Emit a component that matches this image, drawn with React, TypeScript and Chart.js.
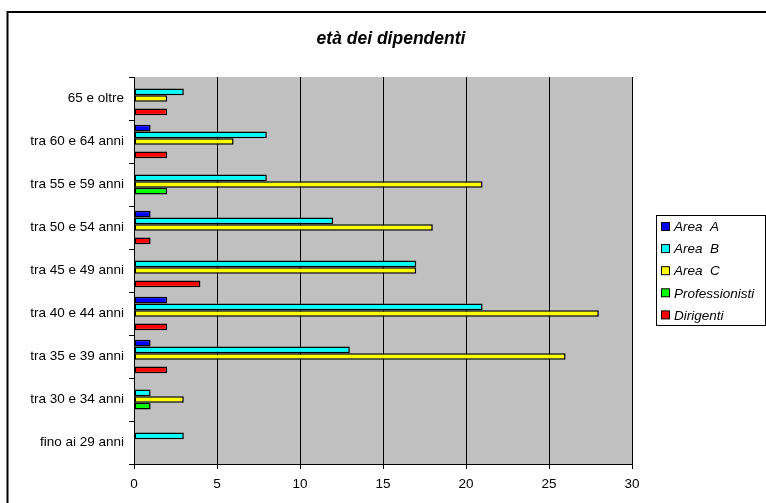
import React, { useEffect, useRef } from "react";
import { Chart, registerables } from "chart.js";

Chart.register(...registerables);

const TITLE = "età dei dipendenti";

const categories = [
  "65 e oltre",
  "tra 60 e 64 anni",
  "tra 55 e 59 anni",
  "tra 50 e 54 anni",
  "tra 45 e 49 anni",
  "tra 40 e 44 anni",
  "tra 35 e 39 anni",
  "tra 30 e 34 anni",
  "fino ai 29 anni",
];

const areaA = [0, 1, 0, 1, 0, 2, 1, 0, 0];
const areaB = [3, 8, 8, 12, 17, 21, 13, 1, 3];
const areaC = [2, 6, 21, 18, 17, 28, 26, 3, 0];
const professionisti = [0, 0, 2, 0, 0, 0, 0, 1, 0];
const dirigenti = [2, 2, 0, 1, 4, 2, 2, 0, 0];

const seriesLabels = ["Area  A", "Area  B", "Area  C", "Professionisti", "Dirigenti"];
const seriesColors = ["#0000FF", "#00FFFF", "#FFFF00", "#00FF00", "#FF0000"];

const xTicks = [0, 5, 10, 15, 20, 25, 30];

const FONT = "'Liberation Sans', Arial, sans-serif";

// Outer frame, grey plot background, title and the boxed legend on the right.
const decorations = {
  id: "decorations",
  beforeDraw(chart: any) {
    const { ctx, chartArea } = chart;
    ctx.save();
    ctx.fillStyle = "#FFFFFF";
    ctx.fillRect(0, 0, chart.width, chart.height);
    ctx.fillStyle = "#C0C0C0";
    ctx.fillRect(
      chartArea.left,
      chartArea.top,
      chartArea.right - chartArea.left,
      chartArea.bottom - chartArea.top
    );
    ctx.restore();
  },
  afterDraw(chart: any) {
    const { ctx } = chart;
    ctx.save();
    // frame
    ctx.strokeStyle = "#000000";
    ctx.lineWidth = 2;
    ctx.strokeRect(7.5, 12, 1000, 1000);

    // title
    ctx.fillStyle = "#000000";
    ctx.font = `italic bold 17.5px ${FONT}`;
    ctx.textAlign = "center";
    ctx.textBaseline = "middle";
    ctx.fillText(TITLE, 391, 39);

    // legend
    ctx.lineWidth = 1;
    ctx.strokeStyle = "#000000";
    ctx.strokeRect(656.5, 215.5, 109, 110);
    ctx.font = `italic 13.5px ${FONT}`;
    ctx.textAlign = "left";
    chart.data.datasets.forEach((ds: any, i: number) => {
      const y = 227 + i * 22.1;
      ctx.fillStyle = ds.backgroundColor;
      ctx.fillRect(661.5, y - 4.5, 8, 8);
      ctx.strokeRect(661.5, y - 4.5, 8, 8);
      ctx.fillStyle = "#000000";
      ctx.fillText(ds.label, 674, y + 0.5);
    });
    ctx.restore();
  },
};

export default function App() {
  const canvasRef = useRef<HTMLCanvasElement | null>(null);

  useEffect(() => {
    if (!canvasRef.current) return;
    const values = [areaA, areaB, areaC, professionisti, dirigenti];
    const chart = new Chart(canvasRef.current, {
      type: "bar",
      data: {
        labels: categories,
        datasets: values.map((data, i) => ({
          label: seriesLabels[i],
          data,
          backgroundColor: seriesColors[i],
          borderColor: "#000000",
          borderWidth: 1.5,
          borderSkipped: false,
          inflateAmount: 0,
          barPercentage: 1,
          categoryPercentage: 0.775,
        })),
      },
      options: {
        indexAxis: "y",
        animation: false,
        responsive: false,
        devicePixelRatio: 1,
        layout: { padding: { top: 77, right: 134, left: 0, bottom: 0 } },
        plugins: {
          legend: { display: false },
          title: { display: false },
          tooltip: { enabled: false },
        },
        scales: {
          x: {
            min: 0,
            max: 30,
            afterFit(scale: any) {
              scale.height = 39;
            },
            afterBuildTicks(scale: any) {
              scale.ticks = xTicks.map((v) => ({ value: v }));
            },
            grid: {
              color: "#000000",
              lineWidth: 1,
              drawTicks: true,
              tickLength: 5,
            },
            border: { display: true, color: "#000000", width: 1 },
            ticks: {
              color: "#000000",
              font: { family: FONT, size: 13.5 },
              padding: 7,
              maxRotation: 0,
            },
          },
          y: {
            afterFit(scale: any) {
              scale.width = 134;
            },
            grid: {
              offset: true,
              drawOnChartArea: false,
              drawTicks: true,
              tickLength: 5,
              color: "#000000",
            },
            border: { display: true, color: "#000000", width: 1 },
            ticks: {
              color: "#000000",
              font: { family: FONT, size: 13.5 },
              padding: 5,
            },
          },
        },
      },
      plugins: [decorations],
    });
    return () => chart.destroy();
  }, []);

  return (
    <div style={{ position: "fixed", left: 0, top: 0, width: 766, height: 503 }}>
      <canvas ref={canvasRef} width={766} height={503} />
    </div>
  );
}
